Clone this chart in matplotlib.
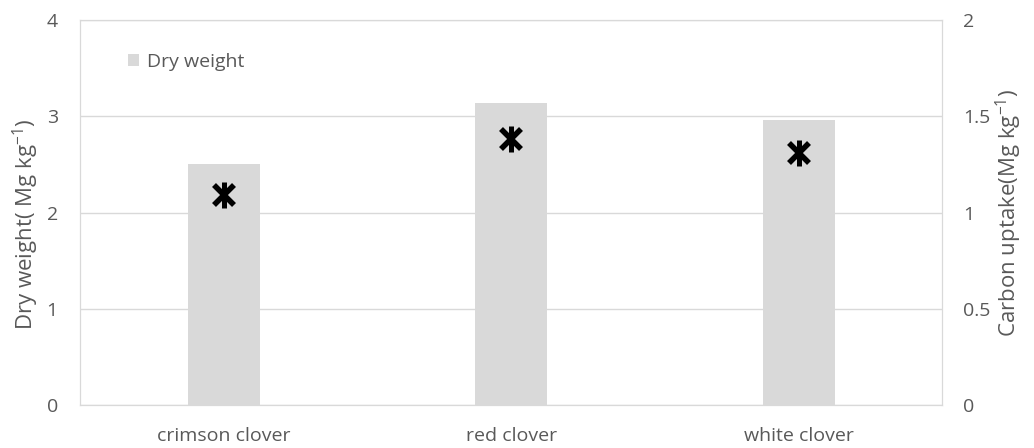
import numpy as np
import matplotlib.pyplot as plt

# values
CATEGORIES = ["crimson clover", "red clover", "white clover"]
DRY_WEIGHT = [2.50, 3.14, 2.96]          # Mg kg-1, left axis
CARBON_UPTAKE = [1.09, 1.38, 1.31]       # Mg kg-1, right axis

TEXT = "#595959"
GREY = "#d9d9d9"

plt.rcParams["font.family"] = ["Open Sans", "DejaVu Sans"]

fig = plt.figure(figsize=(10.34, 4.48), dpi=100)
ax = fig.add_axes([0.0774, 0.096, 0.834, 0.859])
x = np.arange(len(CATEGORIES))

ax.bar(x, DRY_WEIGHT, width=0.25, color=GREY, label="Dry weight", zorder=2)
ax.set_xlim(-0.5, len(CATEGORIES) - 0.5)
ax.set_ylim(0, 4)
ax.set_yticks(range(5))
ax.yaxis.grid(True, color=GREY, linewidth=1, zorder=0)
ax.set_axisbelow(True)
ax.set_xticks(x)
ax.set_xticklabels(CATEGORIES)
ax.tick_params(length=0, labelsize=14, colors=TEXT)
ax.tick_params(axis="x", pad=16)
ax.tick_params(axis="y", pad=16)
for s in ax.spines.values():
    s.set_color(GREY)
ax.set_ylabel(r"Dry weight( Mg kg$\mathregular{^{-1}}$)", fontsize=16,
              color=TEXT, labelpad=4)
ax.yaxis.label.set_y(0.47)

ax2 = ax.twinx()
ax2.set_ylim(0, 2)
ax2.set_yticks([0, 0.5, 1, 1.5, 2])
ax2.set_yticklabels(["0", "0.5", "1", "1.5", "2"])
ax2.tick_params(length=0, labelsize=14, colors=TEXT, pad=15)
for s in ax2.spines.values():
    s.set_color(GREY)
ax2.set_ylabel(r"Carbon uptake(Mg kg$\mathregular{^{-1}}$)", fontsize=16,
               color=TEXT, labelpad=2)

# Excel-style star marker: an x with a vertical bar through it
ax2.plot(x, CARBON_UPTAKE, linestyle="none", marker="x", markersize=14,
         markeredgewidth=4, color="black", zorder=3)
ax2.plot(x, CARBON_UPTAKE, linestyle="none", marker="|", markersize=19,
         markeredgewidth=3.6, color="black", zorder=3)

ax.legend(loc="upper left", bbox_to_anchor=(0.035, 0.96), frameon=False,
          fontsize=14, labelcolor=TEXT, handlelength=0.6, handleheight=0.6,
          handletextpad=0.4)

fig.savefig("out.png", dpi=100)
